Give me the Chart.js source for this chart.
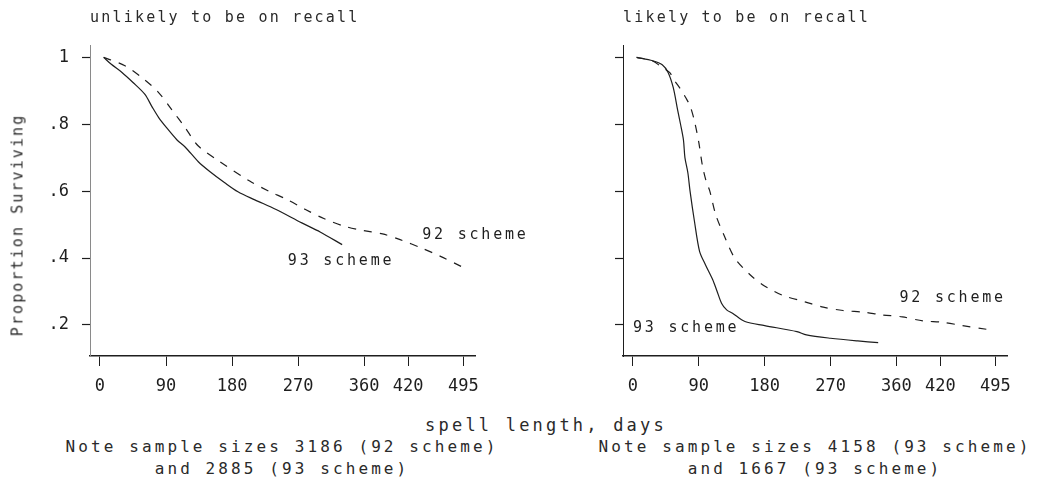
<!DOCTYPE html>
<html><head><meta charset="utf-8">
<script src="https://cdn.jsdelivr.net/npm/chart.js@4.4.1/dist/chart.umd.min.js"></script>
<style>
html,body{margin:0;padding:0;background:#fff;}
#wrap{position:relative;width:1039px;height:491px;overflow:hidden;font-family:'DejaVu Sans Mono',monospace;color:#2a2a2a;}
.box{position:absolute;top:0;height:400px;}
.t{position:absolute;white-space:nowrap;line-height:1;}
</style></head><body>
<div id="wrap">
  <div class="box" style="left:0;width:560px"><canvas id="c1" width="560" height="400"></canvas></div>
  <div class="box" style="left:520px;width:519px"><canvas id="c2" width="519" height="400"></canvas></div>
  <div class="t" style="left:90px;top:10px;font-size:15px;letter-spacing:2.2px">unlikely to be on recall</div>
  <div class="t" style="left:623px;top:10px;font-size:15px;letter-spacing:2.2px">likely to be on recall</div>
  <div class="t" style="left:18px;top:225px;font-size:15px;letter-spacing:2.1px;transform:translate(-50%,-50%) rotate(-90deg)">Proportion Surviving</div>
  <div class="t" style="left:546px;top:425px;font-size:17px;letter-spacing:3.2px;transform:translate(-50%,-50%)">spell length, days</div>
  <div class="t" style="left:282px;top:447px;font-size:16px;letter-spacing:3.1px;transform:translate(-50%,-50%)">Note sample sizes 3186 (92 scheme)</div>
  <div class="t" style="left:282px;top:469px;font-size:16px;letter-spacing:3.1px;transform:translate(-50%,-50%)">and 2885 (93 scheme)</div>
  <div class="t" style="left:815px;top:447px;font-size:16px;letter-spacing:3.1px;transform:translate(-50%,-50%)">Note sample sizes 4158 (93 scheme)</div>
  <div class="t" style="left:815px;top:469px;font-size:16px;letter-spacing:3.1px;transform:translate(-50%,-50%)">and 1667 (93 scheme)</div>
</div>
<script>
// ---- data ----
const xTicks = [0, 90, 180, 270, 360, 420, 495];
const yTicks = [0.2, 0.4, 0.6, 0.8, 1];
const seriesNames = ['92 scheme', '93 scheme'];

// left panel: unlikely to be on recall
const leftDays92 = [5, 34, 59, 79, 98, 116, 134, 162, 204, 230, 255, 280, 305, 333, 359, 385, 409, 440, 464, 492];
const leftVals92 = [1.0, 0.975, 0.936, 0.897, 0.843, 0.79, 0.735, 0.69, 0.63, 0.60, 0.575, 0.545, 0.518, 0.495, 0.482, 0.472, 0.455, 0.428, 0.405, 0.375];
const leftDays93 = [5, 15, 30, 45, 61, 71, 80, 91, 105, 116, 134, 150, 170, 188, 211, 240, 275, 300, 330];
const leftVals93 = [1.0, 0.98, 0.955, 0.925, 0.89, 0.852, 0.82, 0.789, 0.753, 0.732, 0.688, 0.658, 0.625, 0.598, 0.574, 0.545, 0.505, 0.478, 0.44];

// right panel: likely to be on recall
const rightDays92 = [5, 26, 40, 50, 57, 65, 72, 78, 84, 90, 95, 100, 105, 113, 125, 139, 160, 177, 185, 205, 235, 260, 287, 316, 340, 368, 396, 423, 450, 483];
const rightVals92 = [1.0, 0.99, 0.97, 0.955, 0.93, 0.905, 0.88, 0.855, 0.81, 0.745, 0.675, 0.63, 0.60, 0.53, 0.465, 0.40, 0.35, 0.32, 0.31, 0.288, 0.269, 0.253, 0.243, 0.238, 0.23, 0.224, 0.212, 0.208, 0.198, 0.187];
const rightDays93 = [5, 27, 40, 48, 55, 61, 65, 69, 71, 75, 78, 84, 91, 99, 109, 115, 121, 128, 136, 153, 180, 224, 237, 270, 307, 335];
const rightVals93 = [1.0, 0.99, 0.978, 0.955, 0.91, 0.843, 0.80, 0.753, 0.70, 0.655, 0.60, 0.51, 0.42, 0.38, 0.335, 0.30, 0.265, 0.245, 0.235, 0.21, 0.198, 0.18, 0.17, 0.16, 0.152, 0.147];

// in-plot series labels: [day, value] anchor (left edge, vertical middle)
const leftLabel92 = [439, 0.47];
const leftLabel93 = [256, 0.39];
const rightLabel92 = [364, 0.28];
const rightLabel93 = [0, 0.19];

// ---- chart construction ----
const INK = '#1e1e1e';
const pts = (d, v) => d.map((x, i) => ({x: x, y: v[i]}));
const fmtY = v => { if (Math.abs(v - 1) < 1e-9) return '1'; return '.' + Math.round(v * 10); };

const spacingPlugin = {
  id: 'spacing',
  beforeLayout(c) { c.ctx.letterSpacing = '0px'; },
  beforeDraw(c) { c.ctx.letterSpacing = '0px'; }
};

const labelPlugin = {
  id: 'seriesLabels',
  afterDatasetsDraw(c, args, opts) {
    const ctx = c.ctx, xs = c.scales.x, ys = c.scales.y;
    ctx.save();
    ctx.font = '15px "DejaVu Sans Mono"';
    ctx.letterSpacing = '2.8px';
    ctx.fillStyle = INK;
    ctx.textAlign = 'left';
    ctx.textBaseline = 'middle';
    opts.items.forEach(it => {
      ctx.fillText(it.text, xs.getPixelForValue(it.pos[0]), ys.getPixelForValue(it.pos[1]));
    });
    ctx.restore();
  }
};

function makeChart(id, d92, v92, d93, v93, lab92, lab93, showYLabels, yWidth, padRight, yBorder) {
  return new Chart(document.getElementById(id), {
    type: 'line',
    data: {
      datasets: [
        {label: seriesNames[0], data: pts(d92, v92), borderColor: INK, borderWidth: 1.2, borderDash: [8, 8], pointRadius: 0, tension: 0.3, fill: false},
        {label: seriesNames[1], data: pts(d93, v93), borderColor: INK, borderWidth: 1.2, pointRadius: 0, tension: 0.3, fill: false}
      ]
    },
    options: {
      responsive: false,
      animation: false,
      layout: {padding: {top: 45, right: padRight, left: 0, bottom: 0}},
      plugins: {
        legend: {display: false},
        tooltip: {enabled: false},
        seriesLabels: {items: [{text: seriesNames[0], pos: lab92}, {text: seriesNames[1], pos: lab93}]}
      },
      scales: {
        x: {
          type: 'linear', min: -13.6, max: 511,
          afterBuildTicks: s => { s.ticks = xTicks.map(v => ({value: v})); },
          afterFit: s => { s.height = 44; },
          ticks: {color: INK, font: {family: 'DejaVu Sans Mono', size: 17}, padding: 10, maxRotation: 0, autoSkip: false},
          grid: {drawOnChartArea: false, drawTicks: true, tickLength: 10, tickColor: INK, tickWidth: 1},
          border: {display: true, color: INK, width: 1.6}
        },
        y: {
          type: 'linear', min: 0.107, max: 1.037,
          afterBuildTicks: s => { s.ticks = yTicks.map(v => ({value: v})); },
          afterFit: s => { s.width = yWidth; },
          ticks: {color: INK, font: {family: 'DejaVu Sans Mono', size: 17}, padding: 13, callback: v => showYLabels ? fmtY(v) : ''},
          grid: {drawOnChartArea: false, drawTicks: true, tickLength: 8, tickColor: INK, tickWidth: 1.2},
          border: yBorder
        }
      }
    },
    plugins: [spacingPlugin, labelPlugin]
  });
}

makeChart('c1', leftDays92, leftVals92, leftDays93, leftVals93, leftLabel92, leftLabel93, true, 90, 85,
  {display: true, color: '#8a8a8a', width: 1, dash: [3, 2]});
makeChart('c2', rightDays92, rightVals92, rightDays93, rightVals93, rightLabel92, rightLabel93, false, 103, 32,
  {display: true, color: INK, width: 1});
</script>
</body></html>
